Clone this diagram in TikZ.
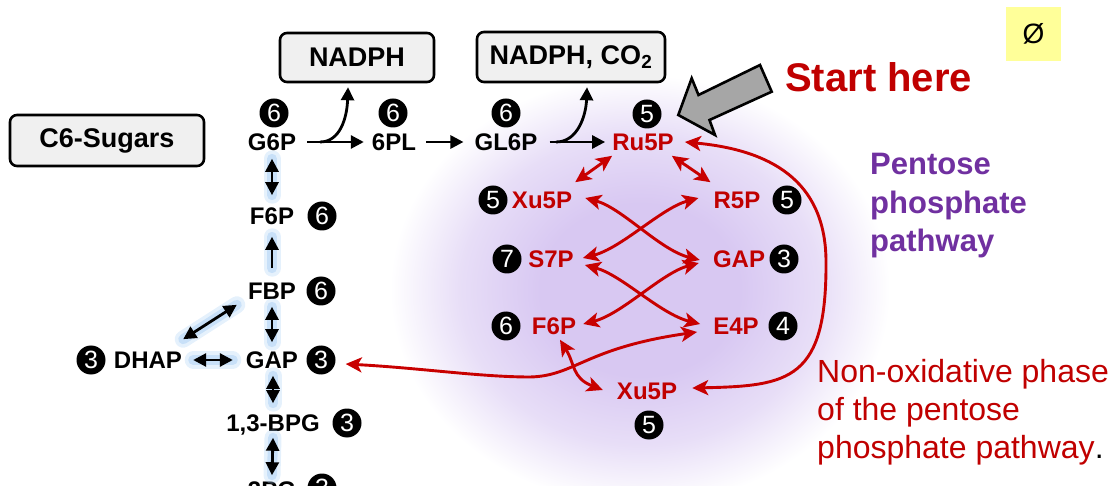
\documentclass[tikz,border=0pt]{standalone}
\usepackage{fontspec}
\setmainfont{Liberation Sans}
\usetikzlibrary{arrows.meta,calc}
\definecolor{dred}{RGB}{192,0,0}
\definecolor{arred}{RGB}{200,0,0}
\definecolor{ppl}{RGB}{112,48,160}
\definecolor{glowp}{RGB}{216,200,242}
\definecolor{glowb}{RGB}{170,208,245}
\definecolor{boxg}{RGB}{240,240,240}
\definecolor{yel}{RGB}{255,255,153}
\definecolor{arrg}{RGB}{166,166,166}
\pgfdeclareradialshading{softglow}{\pgfpoint{0bp}{0bp}}{color(0bp)=(glowp); color(10bp)=(glowp); color(18bp)=(glowp!60!white); color(25bp)=(white); color(50bp)=(white)}
\begin{document}
\begin{tikzpicture}[x=1pt,y=-1pt,
 lbl/.style={inner sep=0pt, text height=17.2pt, text depth=0pt, font=\fontsize{24}{28}\selectfont\bfseries},
 rlbl/.style={lbl, text=dred},
 num/.style={circle, fill=black, inner sep=0pt, minimum size=29pt, text=white, font=\fontsize{25}{25}\selectfont},
 sbox/.style={draw, line width=2.6pt, rounded corners=7pt, fill=boxg, font=\fontsize{27}{30}\selectfont\bfseries, inner sep=0pt},
 blk/.style={line width=2.8pt, -{Triangle[length=13pt,width=13pt]}},
 blk2/.style={line width=2.8pt, {Triangle[length=13pt,width=13pt]}-{Triangle[length=13pt,width=13pt]}},
 glwa/.style={draw=glowb, line width=17pt, line cap=round, opacity=0.3},
 glwb/.style={draw=glowb, line width=10pt, line cap=round, opacity=0.5},
 rarr/.style={draw=arred, line width=2.9pt, {Stealth[length=16pt,width=15pt,inset=4pt]}-{Stealth[length=16pt,width=15pt,inset=4pt]}},
]
\useasboundingbox (0,0) rectangle (1114,486);
\clip (0,0) rectangle (1114,486);

% purple glow
\shade[shading=softglow] (640,290) ellipse (250 and 215);

% boxes
\node[sbox, minimum width=154pt, minimum height=49pt] (nadph) at (357,57.5) {NADPH};
\node[sbox, minimum width=194pt, minimum height=51pt] (c6) at (107,140.5) {C6-Sugars};
\node[sbox, minimum width=188pt, minimum height=50pt] (nco) at (571,57) {NADPH, CO\textsubscript{2}};

% oxidative phase labels
\node[lbl] (g6p) at (272,142) {G6P};
\node[lbl] (pl) at (394,142) {6PL};
\node[lbl] (gl6p) at (506,142) {GL6P};
\node[rlbl] (ru5p) at (643,142) {Ru5P};
\node[num] (ng6p) at (274,113) {6};
\node[num] (npl) at (393,113) {6};
\node[num] (ngl6p) at (506,113) {6};
\node[num] (nru5p) at (647,114) {5};

% glycolysis labels
\node[lbl] (f6p) at (272,216) {F6P};
\node[lbl] (fbp) at (272,291) {FBP};
\node[lbl] (gap) at (272,360) {GAP};
\node[lbl] (dhap) at (148,360) {DHAP};
\node[lbl] (bpg) at (273,423) {1,3-BPG};
\node[lbl] (pg3) at (272,490) {3PG};
\node[num] (nf6p) at (322,216) {6};
\node[num] (nfbp) at (321,291) {6};
\node[num] (ngap) at (321,360) {3};
\node[num] (ndhap) at (91,360) {3};
\node[num] (nbpg) at (347,423) {3};
\node[num] (npg3) at (322,488) {3};

% non-oxidative labels
\node[rlbl] (xu5pA) at (542,200) {Xu5P};
\node[rlbl] (r5p) at (737,200) {R5P};
\node[rlbl] (s7p) at (551,259) {S7P};
\node[rlbl] (gapR) at (739,259) {GAP};
\node[rlbl] (f6pR) at (554,326) {F6P};
\node[rlbl] (e4p) at (736,326) {E4P};
\node[rlbl] (xu5pB) at (647,391) {Xu5P};
\node[num] (nxa) at (493,200) {5};
\node[num] (nr5p) at (787,200) {5};
\node[num] (ns7p) at (507,259) {7};
\node[num] (ngapR) at (784,259) {3};
\node[num] (nf6pR) at (506,326) {6};
\node[num] (ne4p) at (783,326) {4};
\node[num] (nxb) at (649,425) {5};

% glows under glycolysis arrows
\foreach \s in {glwa,glwb}{
\draw[\s] ([shift={(0,8)}]g6p.south) -- ([shift={(0,-12)}]f6p.north);
\draw[\s] ([shift={(0,-14)}]fbp.north) -- ([shift={(0,12)}]f6p.south);
\draw[\s] ([shift={(0,7)}]fbp.south) -- ([shift={(0,-9)}]gap.north);
\draw[\s] ([shift={(1,7)}]gap.south) -- ([shift={(0,-11)}]bpg.north);
\draw[\s] ([shift={(0,6)}]bpg.south) -- ([shift={(0,-6)}]pg3.north);
\draw[\s] ([shift={(11,0)}]dhap.east) -- ([shift={(-13,0)}]gap.west);
\draw[\s] ([shift={(1,-12)}]dhap.north east) -- ([shift={(-11,5)}]fbp.south west);
}

% glycolysis arrows
\draw[blk2] ([shift={(0,8)}]g6p.south) -- ([shift={(0,-12)}]f6p.north);
\draw[blk] ([shift={(0,-14)}]fbp.north) -- ([shift={(0,12)}]f6p.south);
\draw[blk2] ([shift={(0,7)}]fbp.south) -- ([shift={(0,-9)}]gap.north);
\draw[blk2] ([shift={(1,7)}]gap.south) -- ([shift={(0,-11)}]bpg.north);
\draw[blk2] ([shift={(0,6)}]bpg.south) -- ([shift={(0,-6)}]pg3.north);
\draw[blk2] ([shift={(11,0)}]dhap.east) -- ([shift={(-13,0)}]gap.west);
\draw[blk2] ([shift={(1,-12)}]dhap.north east) -- ([shift={(-11,5)}]fbp.south west);

% oxidative arrows
\draw[blk] ([shift={(11,0)}]g6p.east) -- ([shift={(-8,0)}]pl.west);
\coordinate (b1) at (320,142);
\draw[blk] (b1) .. controls (340,142) and (347,118) .. ([shift={(-9,4)}]nadph.south);
\draw[blk] ([shift={(10,0)}]pl.east) -- ([shift={(-11,0)}]gl6p.west);
\draw[blk] ([shift={(12,0)}]gl6p.east) -- ([shift={(-7,0)}]ru5p.west);
\coordinate (b2) at (556,142);
\draw[blk] (b2) .. controls (578,142) and (586,115) .. ([shift={(16,4)}]nco.south);

% non-oxidative arrows
\draw[rarr] ([shift={(0,5)}]ru5p.south west) -- ([shift={(3,-9)}]xu5pA.north east);
\draw[rarr] ([shift={(-2,5)}]ru5p.south east) -- ([shift={(-3,-9)}]r5p.north west);
\draw[rarr] ([shift={(13,-2)}]xu5pA.east) .. controls +(37,10) and +(-40,-10) .. ([shift={(-13,1)}]gapR.west);
\draw[rarr] ([shift={(-15,-2)}]r5p.west) .. controls +(-37,10) and +(39,-10) .. ([shift={(9,-1)}]s7p.east);
\draw[rarr] ([shift={(11,6)}]s7p.east) .. controls +(37,10) and +(-40,-10) .. ([shift={(-13,-2)}]e4p.west);
\draw[rarr] ([shift={(-14,4)}]gapR.west) .. controls +(-37,10) and +(39,-10) .. ([shift={(7,-2)}]f6pR.east);
\coordinate (lowmid) at (530,377);
\draw[rarr] ([shift={(10,4)}]ngap.east) .. controls +(75,4) and +(-50,0) .. (lowmid) .. controls +(45,-1) and +(-112,16) .. ([shift={(-16,6)}]e4p.west);
\draw[rarr] ([shift={(6,5)}]f6pR.south) .. controls +(15,24) and +(-31,-12) .. ([shift={(-14,-1)}]xu5pB.west);
\coordinate (rmid) at (826,260);
\draw[rarr] ([shift={(11,0)}]ru5p.east) .. controls +(85,8) and +(-1,-80) .. (rmid) .. controls +(1,120) and +(98,-2) .. ([shift={(15,-3)}]xu5pB.east);

% start arrow
\draw[fill=arrg, line width=2.6pt, line join=miter] (678.3,115) -- (691.7,78.3) -- (698.5,95) -- (760,65) -- (771.7,91.7) -- (709.5,120) -- (715,135) -- cycle;
\node[font=\fontsize{40}{44}\selectfont\bfseries, text=dred, inner sep=0pt, anchor=base west] (start) at (785,92) {Start here};

% yellow tag
\node[fill=yel, minimum width=55pt, minimum height=54pt, inner sep=0pt, font=\fontsize{28}{30}\selectfont] (phi) at (1033.5,34) {Ø};

% side texts
\node[anchor=base west, inner sep=0pt, font=\fontsize{31}{36}\selectfont\bfseries, text=ppl] (pp1) at (870,175) {Pentose};
\node[anchor=base west, inner sep=0pt, font=\fontsize{31}{36}\selectfont\bfseries, text=ppl] (pp2) at (870,213.5) {phosphate};
\node[anchor=base west, inner sep=0pt, font=\fontsize{31}{36}\selectfont\bfseries, text=ppl] (pp3) at (870,252) {pathway};
\node[anchor=base west, inner sep=0pt, font=\fontsize{32}{36}\selectfont, text=dred] (no1) at (817,382) {Non-oxidative phase};
\node[anchor=base west, inner sep=0pt, font=\fontsize{32}{36}\selectfont, text=dred] (no2) at (817,420) {of the pentose};
\node[anchor=base west, inner sep=0pt, font=\fontsize{32}{36}\selectfont, text=dred] (no3) at (817,458) {phosphate pathway\textcolor{black}{.}};
\end{tikzpicture}
\end{document}
